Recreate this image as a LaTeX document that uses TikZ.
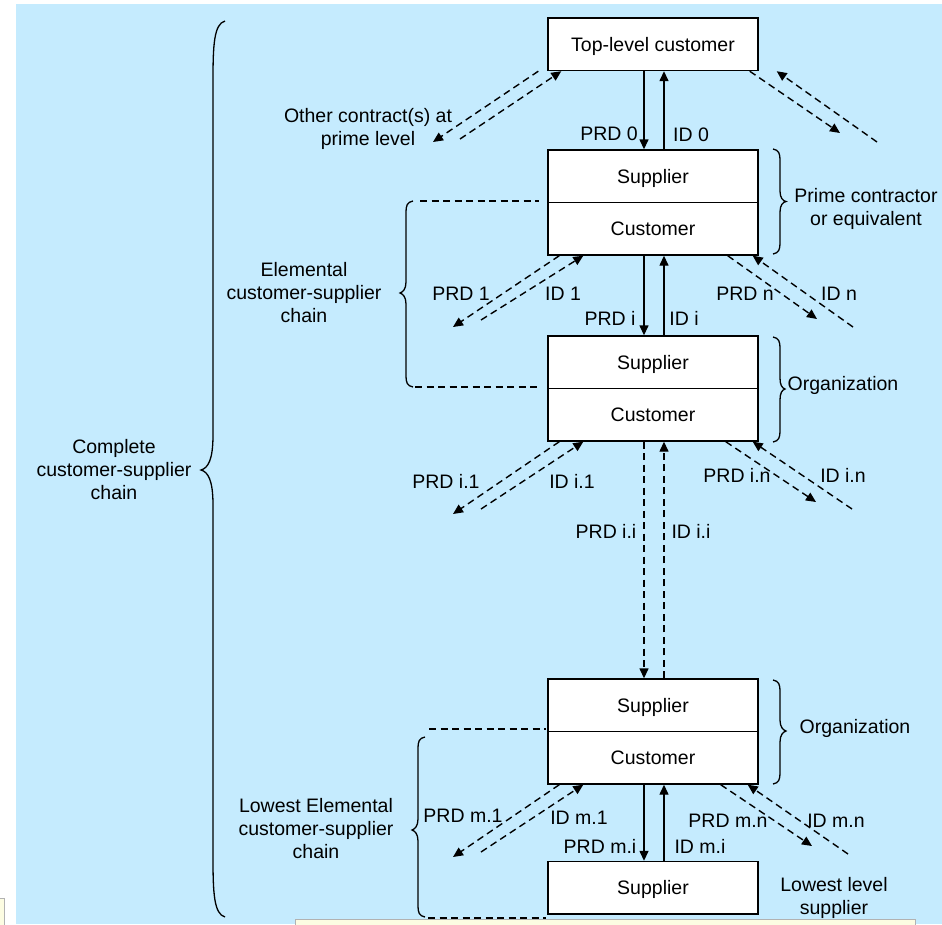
\documentclass[tikz,border=0pt]{standalone}
\usepackage{fontspec}
\setmainfont{Liberation Sans}
\usetikzlibrary{arrows.meta}
\definecolor{bgblue}{RGB}{197,235,254}
\definecolor{tipyellow}{RGB}{252,252,226}
\begin{document}
\begin{tikzpicture}[x=1pt,y=-1pt,
  font=\fontsize{19.5}{23}\selectfont,
  box/.style={draw, line width=1.4pt, fill=white, minimum width=210pt, minimum height=52.5pt, inner sep=0pt, text height=14pt, text depth=0pt},
  lbl/.style={inner sep=0pt, anchor=base},
  mlbl/.style={inner sep=0pt, align=center},
  sarr/.style={line width=1.4pt, -{Triangle[length=10pt,width=9pt]}},
  darr/.style={sarr, dash pattern=on 7pt off 4.5pt},
  dline/.style={line width=1.4pt, dash pattern=on 7pt off 4.5pt},
  brc/.style={line width=1.3pt}]
\useasboundingbox (0,0) rectangle (942,924);
\fill[bgblue] (16,4) rectangle (942,924);
\draw[gray!60, fill=tipyellow, line width=0.8pt] (295,919) rectangle (915,930);
\draw[gray!60, fill=tipyellow, line width=0.8pt] (-5,898) rectangle (4,930);

% boxes
\node[box] (top) at (653,44.25) {Top-level customer};
\node[box] (psup) at (653,176.25) {Supplier};
\node[box] (pcus) at (653,228.75) {Customer};
\node[box] (osup) at (653,362.25) {Supplier};
\node[box] (ocus) at (653,414.75) {Customer};
\node[box] (lsup) at (653,705.25) {Supplier};
\node[box] (lcus) at (653,757.75) {Customer};
\node[box] (bot) at (653,887.75) {Supplier};

% vertical arrows
\draw[sarr] ([xshift=-9pt]top.south) -- ([xshift=-9pt]psup.north);
\draw[sarr] ([xshift=11pt]psup.north) -- ([xshift=11pt]top.south);
\draw[sarr] ([xshift=-9pt]pcus.south) -- ([xshift=-9pt]osup.north);
\draw[sarr] ([xshift=11pt]osup.north) -- ([xshift=11pt]pcus.south);
\draw[darr] ([xshift=-9pt]ocus.south) -- ([xshift=-9pt]lsup.north);
\draw[darr] ([xshift=11pt]lsup.north) -- ([xshift=11pt]ocus.south);
\draw[sarr] ([xshift=-9pt]lcus.south) -- ([xshift=-9pt]bot.north);
\draw[sarr] ([xshift=11pt]bot.north) -- ([xshift=11pt]lcus.south);

% free ends of diagonal arrows
\coordinate (c0lo) at (433,142);
\coordinate (c0li) at (460,139);
\coordinate (c0ro) at (840,133);
\coordinate (c0ri) at (877,142);
\coordinate (c1lo) at (453,327);
\coordinate (c1li) at (481,320);
\coordinate (c1ro) at (817,319);
\coordinate (c1ri) at (853,327);
\coordinate (c2lo) at (453,514);
\coordinate (c2li) at (481,509);
\coordinate (c2ro) at (816,502);
\coordinate (c2ri) at (852,509);
\coordinate (c3lo) at (453,857);
\coordinate (c3li) at (481,852);
\coordinate (c3ro) at (812,846);
\coordinate (c3ri) at (848,854);

% diagonal arrows
\draw[darr] ([xshift=-9pt]top.south west) -- (c0lo);
\draw[darr] (c0li) -- ([xshift=14pt]top.south west);
\draw[darr] ([xshift=-9pt]top.south east) -- (c0ro);
\draw[darr] (c0ri) -- ([xshift=18pt]top.south east);

\draw[darr] ([xshift=12pt]pcus.south west) -- (c1lo);
\draw[darr] (c1li) -- ([xshift=36pt]pcus.south west);
\draw[darr] ([xshift=-31pt]pcus.south east) -- (c1ro);
\draw[darr] (c1ri) -- ([xshift=-6pt]pcus.south east);

\draw[darr] ([xshift=12pt]ocus.south west) -- (c2lo);
\draw[darr] (c2li) -- ([xshift=36pt]ocus.south west);
\draw[darr] ([xshift=-33pt]ocus.south east) -- (c2ro);
\draw[darr] (c2ri) -- ([xshift=-6pt]ocus.south east);

\draw[darr] ([xshift=12pt]lcus.south west) -- (c3lo);
\draw[darr] (c3li) -- ([xshift=36pt]lcus.south west);
\draw[darr] ([xshift=-38pt]lcus.south east) -- (c3ro);
\draw[darr] (c3ri) -- ([xshift=-11pt]lcus.south east);

% braces
\draw[brc] (225,21) .. controls (214,24) and (213,45) .. (213,80) -- (213,435)
  .. controls (213,460) and (208,468) .. (201,470)
  .. controls (208,472) and (213,480) .. (213,505) -- (213,858)
  .. controls (213,893) and (214,914) .. (225,917);
\draw[brc] (413,201) .. controls (407,202) and (406,206) .. (406,212) -- (406,282)
  .. controls (406,289) and (403,292) .. (400,293)
  .. controls (403,294) and (406,297) .. (406,304) -- (406,376)
  .. controls (406,382) and (407,386) .. (413,387);
\draw[brc] (425,737) .. controls (419,738) and (418,742) .. (418,748) -- (418,819)
  .. controls (418,826) and (415,829) .. (412,830)
  .. controls (415,831) and (418,834) .. (418,841) -- (418,906)
  .. controls (418,912) and (419,916) .. (425,917);
\draw[brc] (773,149) .. controls (779,150) and (780,154) .. (780,160) -- (780,191)
  .. controls (780,198) and (783,201) .. (786,201.5)
  .. controls (783,202) and (780,205) .. (780,212) -- (780,243)
  .. controls (780,249) and (779,253) .. (773,254);
\draw[brc] (773,337) .. controls (779,338) and (780,342) .. (780,348) -- (780,378)
  .. controls (780,385) and (782,388) .. (785,389)
  .. controls (782,390) and (780,393) .. (780,400) -- (780,431)
  .. controls (780,437) and (779,441) .. (773,442);
\draw[brc] (773,680) .. controls (779,681) and (780,685) .. (780,691) -- (780,720)
  .. controls (780,727) and (783,730) .. (786,731)
  .. controls (783,732) and (780,735) .. (780,742) -- (780,773)
  .. controls (780,779) and (779,783) .. (773,784);

% dashed bracket lines
\draw[dline] (420,201) -- (539,201);
\draw[dline] (415,387) -- (539,387);
\draw[dline] (429,729) -- (546,729);
\draw[dline] (428,918) -- (546,918);

% labels
\node[mlbl] (oth) at (368,129) {Other contract(s) at\\prime level};
\node[mlbl] (pce) at (866,208.5) {Prime contractor\\or equivalent};
\node[mlbl] (elc) at (304,292.7) {Elemental\\customer-supplier\\chain};
\node[mlbl] (cpc) at (114,470) {Complete\\customer-supplier\\chain};
\node[mlbl] (lec) at (316,828.7) {Lowest Elemental\\customer-supplier\\chain};
\node[mlbl] (lls) at (834,898) {Lowest level\\supplier};
\node[lbl] (org1) at (843,390.7) {Organization};
\node[lbl] (org2) at (855,733) {Organization};

\node[lbl] (prd0) at (609,140.7) {PRD 0};
\node[lbl] (id0) at (691,141) {ID 0};
\node[lbl] (prd1) at (461,300.7) {PRD 1};
\node[lbl] (id1) at (563,300.7) {ID 1};
\node[lbl] (prdi) at (610,325) {PRD i};
\node[lbl] (idi) at (684,325) {ID i};
\node[lbl] (prdn) at (745,300.7) {PRD n};
\node[lbl] (idn) at (839,300.7) {ID n};
\node[lbl] (prdi1) at (446,488.3) {PRD i.1};
\node[lbl] (idi1) at (572,488.3) {ID i.1};
\node[lbl] (prdin) at (737,482.3) {PRD i.n};
\node[lbl] (idin) at (843,482.3) {ID i.n};
\node[lbl] (prdii) at (606,538.3) {PRD i.i};
\node[lbl] (idii) at (691,538.3) {ID i.i};
\node[lbl] (prdm1) at (463,822.3) {PRD m.1};
\node[lbl] (idm1) at (579,824) {ID m.1};
\node[lbl] (prdmi) at (600,853.3) {PRD m.i};
\node[lbl] (idmi) at (700,853.3) {ID m.i};
\node[lbl] (prdmn) at (728,827.3) {PRD m.n};
\node[lbl] (idmn) at (836,827.3) {ID m.n};
\end{tikzpicture}
\end{document}
